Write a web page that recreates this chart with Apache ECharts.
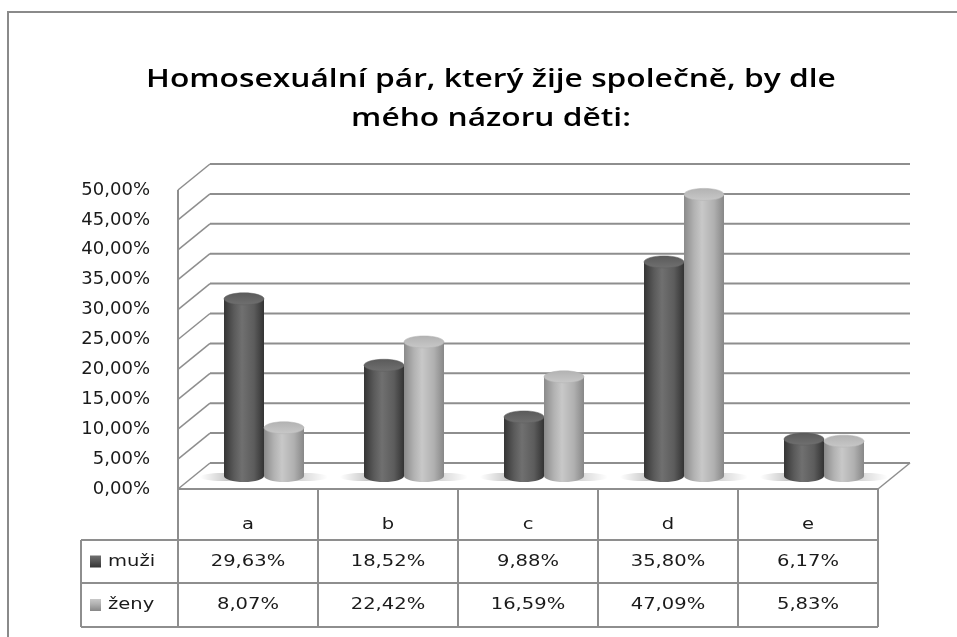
<!DOCTYPE html>
<html>
<head>
<meta charset="utf-8">
<script src="https://cdn.jsdelivr.net/npm/echarts@6/dist/echarts.min.js"></script>
<style>
  html, body { margin: 0; padding: 0; background: #fff; }
  #chart { width: 957px; height: 637px; }
</style>
</head>
<body>
<div id="chart"></div>
<script>
// data
var categories = ['a', 'b', 'c', 'd', 'e'];
var muzi = [29.63, 18.52, 9.88, 35.80, 6.17];
var zeny = [8.07, 22.42, 16.59, 47.09, 5.83];
var seriesNames = ['muži', 'ženy'];
var yTicks = [0, 5, 10, 15, 20, 25, 30, 35, 40, 45, 50];
var titleLines = ['Homosexuální pár, který žije společně, by dle', 'mého názoru děti:'];

// 3d look: depth offset of the back wall
var DX = 32, DY = -26;
var GRID = { left: 178, top: 190, width: 700, height: 299 };
var lineCol = '#8e8e8e';
var font = 'DejaVu Sans';
// the original picture is stretched sideways a bit
var STRETCH = 1.22;

function pct(v) {
    return v.toFixed(2).replace('.', ',') + '%';
}

var gradDark = ['#353535', '#5a5a5a', '#707070', '#5c5c5c', '#333333'];
var gradLight = ['#8a8a8a', '#b2b2b2', '#c8c8c8', '#b0b0b0', '#878787'];

function hGrad(cols) {
    return new echarts.graphic.LinearGradient(0, 0, 1, 0, [
        { offset: 0, color: cols[0] },
        { offset: 0.25, color: cols[1] },
        { offset: 0.45, color: cols[2] },
        { offset: 0.75, color: cols[3] },
        { offset: 1, color: cols[4] }
    ]);
}

function cylinder(off, cols) {
    return function (params, api) {
        var idx = api.value(0), v = api.value(1);
        var c0 = api.coord([idx, 0]);
        var c1 = api.coord([idx, v]);
        var cx = c0[0] + DX / 2 + off;
        var by = c0[1] + DY / 2;
        var ty = c1[1] + DY / 2;
        var w = 40, ry = 6;
        var left = off < 0;
        // soft floor shadow beside the pair
        var shadow = {
            type: 'ellipse',
            shape: { cx: left ? cx - 22 : cx + 22, cy: by + 1, rx: 22, ry: 4 },
            style: {
                fill: new echarts.graphic.LinearGradient(0, 0, 1, 0, left ? [
                    { offset: 0, color: 'rgba(0,0,0,0)' },
                    { offset: 1, color: 'rgba(0,0,0,0.35)' }
                ] : [
                    { offset: 0, color: 'rgba(0,0,0,0.25)' },
                    { offset: 1, color: 'rgba(0,0,0,0)' }
                ])
            }
        };
        return {
            type: 'group',
            children: [
                shadow,
                {
                    type: 'ellipse',
                    shape: { cx: cx, cy: by, rx: w / 2, ry: ry },
                    style: { fill: hGrad(cols) }
                },
                {
                    type: 'rect',
                    shape: { x: cx - w / 2, y: ty, width: w, height: by - ty },
                    style: { fill: hGrad(cols) }
                },
                {
                    type: 'ellipse',
                    shape: { cx: cx, cy: ty, rx: w / 2, ry: ry },
                    style: {
                        fill: new echarts.graphic.LinearGradient(0, 0, 0, 1, [
                            { offset: 0, color: cols[1] },
                            { offset: 1, color: cols[2] }
                        ]),
                        stroke: cols[3],
                        lineWidth: 0.5
                    }
                }
            ]
        };
    };
}

function walls(params, api) {
    var v = api.value(0);
    var cs = params.coordSys;
    var left = cs.x, right = cs.x + cs.width;
    var y = api.coord([0, v])[1];
    var kids = [
        { type: 'line', shape: { x1: left, y1: y, x2: left + DX, y2: y + DY }, style: { stroke: lineCol, lineWidth: 1.5 } },
        { type: 'line', shape: { x1: left + DX, y1: y + DY, x2: right + DX, y2: y + DY }, style: { stroke: lineCol, lineWidth: 2 } }
    ];
    if (v === 0) {
        kids.push({ type: 'line', shape: { x1: left, y1: y, x2: right, y2: y }, style: { stroke: lineCol, lineWidth: 2 } });
        kids.push({ type: 'line', shape: { x1: right, y1: y, x2: right + DX, y2: y + DY }, style: { stroke: lineCol, lineWidth: 1.5 } });
        kids.push({ type: 'line', shape: { x1: left, y1: y, x2: left, y2: api.coord([0, 50])[1] }, style: { stroke: lineCol, lineWidth: 2 } });
    }
    return { type: 'group', children: kids };
}

// data table under the chart
var tableTop = 489, headBottom = 540, row1Bottom = 583, tableBottom = 627;
var legendLeft = 81, colW = 140;
var table = [];
function hline(x1, x2, y) {
    table.push({ type: 'line', shape: { x1: x1, y1: y, x2: x2, y2: y }, style: { stroke: lineCol, lineWidth: 2 } });
}
function vline(x, y1, y2) {
    table.push({ type: 'line', shape: { x1: x, y1: y1, x2: x, y2: y2 }, style: { stroke: lineCol, lineWidth: 2 } });
}
function cellText(x, y, t, align) {
    table.push({
        type: 'text', x: x, y: y, scaleX: STRETCH,
        style: { text: t, fill: '#1a1a1a', font: '16px "' + font + '"', align: align || 'center', verticalAlign: 'middle' }
    });
}
var tableRight = GRID.left + categories.length * colW;
hline(legendLeft, tableRight, headBottom);
hline(legendLeft, tableRight, row1Bottom);
hline(legendLeft, tableRight, tableBottom);
vline(legendLeft, headBottom, tableBottom);
for (var i = 0; i <= categories.length; i++) {
    vline(GRID.left + i * colW, tableTop, tableBottom);
}
categories.forEach(function (c, i) {
    var cx = GRID.left + i * colW + colW / 2;
    cellText(cx, (tableTop + headBottom) / 2 + 10, c);
    cellText(cx, (headBottom + row1Bottom) / 2, pct(muzi[i]));
    cellText(cx, (row1Bottom + tableBottom) / 2, pct(zeny[i]));
});
[[gradDark, (headBottom + row1Bottom) / 2], [gradLight, (row1Bottom + tableBottom) / 2]].forEach(function (r, k) {
    table.push({
        type: 'rect', shape: { x: 90, y: r[1] - 6, width: 11, height: 12 },
        style: {
            fill: new echarts.graphic.LinearGradient(0, 0, 0, 1, [
                { offset: 0, color: r[0][2] }, { offset: 0.4, color: r[0][1] }, { offset: 1, color: r[0][4] }
            ])
        }
    });
    cellText(108, r[1], seriesNames[k], 'left');
});
// title, two lines
titleLines.forEach(function (t, k) {
    table.push({
        type: 'text', x: 491, y: 67 + k * 39, scaleX: 1.27,
        style: { text: t, fill: '#000', font: '600 25px "Open Sans"', align: 'center', verticalAlign: 'alphabetic' }
    });
});
// outer chart border
table.push({ type: 'rect', shape: { x: 8, y: 12, width: 980, height: 660 }, style: { fill: null, stroke: '#8a8a8a', lineWidth: 2 } });

var chart = echarts.init(document.getElementById('chart'));
chart.setOption({
    backgroundColor: '#fff',
    animation: false,
    grid: GRID,
    xAxis: {
        type: 'category',
        data: categories,
        show: false
    },
    yAxis: {
        type: 'value',
        min: 0,
        max: 50,
        interval: 5,
        axisLine: { show: false },
        axisTick: { show: false },
        splitLine: { show: false },
        axisLabel: {
            margin: 28,
            fontFamily: font,
            fontSize: 18,
            color: '#1a1a1a',
            formatter: function (v) { return pct(v); }
        }
    },
    series: [
        {
            type: 'custom',
            name: 'walls',
            renderItem: walls,
            data: yTicks.map(function (v) { return [v]; }),
            encode: { y: 0 },
            silent: true,
            z: 1
        },
        {
            type: 'custom',
            name: seriesNames[0],
            renderItem: cylinder(-20, gradDark),
            data: muzi.map(function (v, i) { return [i, v]; }),
            encode: { x: 0, y: 1 },
            z: 3
        },
        {
            type: 'custom',
            name: seriesNames[1],
            renderItem: cylinder(20, gradLight),
            data: zeny.map(function (v, i) { return [i, v]; }),
            encode: { x: 0, y: 1 },
            z: 4
        }
    ],
    graphic: table
});
</script>
</body>
</html>
